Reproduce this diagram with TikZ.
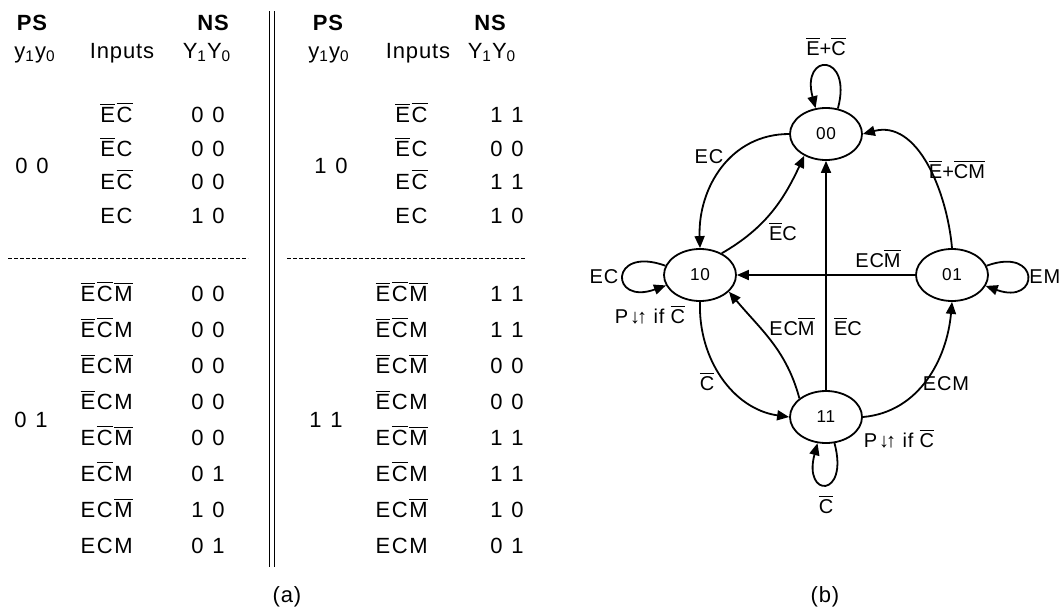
\documentclass[tikz,border=0pt]{standalone}
\usepackage{fontspec}
\setmainfont{Liberation Sans}[LetterSpace=4]
\usetikzlibrary{arrows.meta,shapes.geometric}
\newcommand{\nb}[1]{$\overline{\mbox{#1}}$}
\newcommand{\gp}{\kern0.8pt}
\newcommand{\tabsize}{\fontsize{11}{13}\selectfont}
\newcommand{\lblsize}{\fontsize{10}{12}\selectfont}
\newcommand{\stsize}{\fontsize{8.6}{10}\selectfont}

\begin{document}
\begin{tikzpicture}[x=0.5pt,y=0.5pt,
  tabtxt/.style={font=\tabsize,inner sep=0pt,anchor=base},
  hdr/.style={tabtxt,font=\tabsize\bfseries},
  inp/.style={tabtxt,anchor=base east},
  stnode/.style={ellipse,draw,line width=0.9pt,minimum width=36pt,minimum height=26pt,inner sep=0pt,font=\stsize},
  lbl/.style={font=\lblsize,inner sep=0pt,anchor=base},
  trans/.style={-{Triangle[length=6pt,width=5pt]},line width=0.9pt},
  dashsep/.style={line width=0.4pt,dash pattern=on 2pt off 1pt}]
\useasboundingbox (0,0) rectangle (1064,-611);
% left half of the table
\node[hdr] (lps) at (32,-30) {PS};
\node[hdr] (lns) at (213,-30) {NS};
\node[tabtxt] (lps2) at (35,-58) {y\textsubscript{1}y\textsubscript{0}};
\node[tabtxt] (linp) at (122,-58) {Inputs};
\node[tabtxt] (lns2) at (207,-58) {Y\textsubscript{1}Y\textsubscript{0}};
\node[inp] (li1) at (133,-122) {\nb{E}\gp\nb{C}};
\node[tabtxt] (ln1) at (208,-122) {0\kern1pt\ 0};
\node[inp] (li2) at (133,-156) {\nb{E}\gp C};
\node[tabtxt] (ln2) at (208,-156) {0\kern1pt\ 0};
\node[inp] (li3) at (133,-189) {E\gp\nb{C}};
\node[tabtxt] (ln3) at (208,-189) {0\kern1pt\ 0};
\node[inp] (li4) at (133,-223) {E\gp C};
\node[tabtxt] (ln4) at (208,-223) {1\kern1pt\ 0};
\node[tabtxt] (lpa) at (32,-173) {0\kern1pt\ 0};
\draw[dashsep] (8,-258) -- (248,-258);
\node[inp] (li5) at (133,-301) {\nb{E}\gp\nb{C}\gp\nb{M}};
\node[tabtxt] (ln5) at (208,-301) {0\kern1pt\ 0};
\node[inp] (li6) at (133,-337) {\nb{E}\gp\nb{C}\gp M};
\node[tabtxt] (ln6) at (208,-337) {0\kern1pt\ 0};
\node[inp] (li7) at (133,-373) {\nb{E}\gp C\gp\nb{M}};
\node[tabtxt] (ln7) at (208,-373) {0\kern1pt\ 0};
\node[inp] (li8) at (133,-409) {\nb{E}\gp C\gp M};
\node[tabtxt] (ln8) at (208,-409) {0\kern1pt\ 0};
\node[inp] (li9) at (133,-445) {E\gp\nb{C}\gp\nb{M}};
\node[tabtxt] (ln9) at (208,-445) {0\kern1pt\ 0};
\node[inp] (li10) at (133,-481) {E\gp\nb{C}\gp M};
\node[tabtxt] (ln10) at (208,-481) {0\kern1pt\ 1};
\node[inp] (li11) at (133,-517) {E\gp C\gp\nb{M}};
\node[tabtxt] (ln11) at (208,-517) {1\kern1pt\ 0};
\node[inp] (li12) at (133,-553) {E\gp C\gp M};
\node[tabtxt] (ln12) at (208,-553) {0\kern1pt\ 1};
\node[tabtxt] (lpb) at (31,-427) {0\kern1pt\ 1};
% divider
\draw[double,double distance=1.6pt,line width=0.5pt] (272,-11) -- (272,-567);
% right half of the table
\node[hdr] (rps) at (328,-30) {PS};
\node[hdr] (rns) at (490,-30) {NS};
\node[tabtxt] (rps2) at (329,-58) {y\textsubscript{1}y\textsubscript{0}};
\node[tabtxt] (rinp) at (418,-58) {Inputs};
\node[tabtxt] (rns2) at (492,-58) {Y\textsubscript{1}Y\textsubscript{0}};
\node[inp] (ri1) at (428,-122) {\nb{E}\gp\nb{C}};
\node[tabtxt] (rn1) at (507,-122) {1\kern1pt\ 1};
\node[inp] (ri2) at (428,-156) {\nb{E}\gp C};
\node[tabtxt] (rn2) at (507,-156) {0\kern1pt\ 0};
\node[inp] (ri3) at (428,-189) {E\gp\nb{C}};
\node[tabtxt] (rn3) at (507,-189) {1\kern1pt\ 1};
\node[inp] (ri4) at (428,-223) {E\gp C};
\node[tabtxt] (rn4) at (507,-223) {1\kern1pt\ 0};
\node[tabtxt] (rpa) at (331,-173) {1\kern1pt\ 0};
\draw[dashsep] (287,-258) -- (525,-258);
\node[inp] (ri5) at (428,-301) {\nb{E}\gp\nb{C}\gp\nb{M}};
\node[tabtxt] (rn5) at (507,-301) {1\kern1pt\ 1};
\node[inp] (ri6) at (428,-337) {\nb{E}\gp\nb{C}\gp M};
\node[tabtxt] (rn6) at (507,-337) {1\kern1pt\ 1};
\node[inp] (ri7) at (428,-373) {\nb{E}\gp C\gp\nb{M}};
\node[tabtxt] (rn7) at (507,-373) {0\kern1pt\ 0};
\node[inp] (ri8) at (428,-409) {\nb{E}\gp C\gp M};
\node[tabtxt] (rn8) at (507,-409) {0\kern1pt\ 0};
\node[inp] (ri9) at (428,-445) {E\gp\nb{C}\gp\nb{M}};
\node[tabtxt] (rn9) at (507,-445) {1\kern1pt\ 1};
\node[inp] (ri10) at (428,-481) {E\gp\nb{C}\gp M};
\node[tabtxt] (rn10) at (507,-481) {1\kern1pt\ 1};
\node[inp] (ri11) at (428,-517) {E\gp C\gp\nb{M}};
\node[tabtxt] (rn11) at (507,-517) {1\kern1pt\ 0};
\node[inp] (ri12) at (428,-553) {E\gp C\gp M};
\node[tabtxt] (rn12) at (507,-553) {0\kern1pt\ 1};
\node[tabtxt] (rpb) at (326,-427) {1\kern1pt\ 1};
\node[font=\tabsize,inner sep=0pt] (capa) at (287,-597) {(a)};
% state diagram
\node[stnode] (s00) at (826,-134) {00};
\node[stnode] (s10) at (700,-275) {10};
\node[stnode] (s01) at (952,-275) {01};
\node[stnode] (s11) at (826,-417) {11};
\draw[trans] (s00.west) to[out=180,in=92,looseness=1.05] (s10.north);
\draw[trans] (s10.45) to[out=30,in=245] (s00.225);
\draw[trans] (s01.north) to[out=95,in=15] (s00.east);
\draw[trans] (s01.west) -- (s10.east);
\draw[trans] (s11.north) -- (s00.south);
\draw[trans] (s11.145) to[out=105,in=-50] (s10.-30);
\draw[trans] (s10.south) to[out=-92,in=172] (s11.west);
\draw[trans] (s11.east) to[out=5,in=-95] (s01.south);
\draw[trans] (s00.65) .. controls +(75:58) and +(105:58) .. (s00.112);
\draw[trans] (s10.165) .. controls +(160:60) and +(200:60) .. (s10.197);
\draw[trans] (s01.15) .. controls +(20:58) and +(-20:58) .. (s01.-18);
\draw[trans] (s11.-72) .. controls +(-75:57) and +(-105:57) .. (s11.-108);
\node[lbl] (t00) at (826,-55) {\nb{E}+\nb{C}};
\node[lbl] (t0010) at (709,-163) {EC};
\node[lbl] (t1000) at (783,-240) {\nb{E}C};
\node[lbl] (t0100) at (957,-178) {\nb{E}+\nb{C}\nb{M}};
\node[lbl] (t0110) at (878,-267) {EC\nb{M}};
\node[lbl] (t1100) at (848,-335) {\nb{E}C};
\node[lbl] (t1110) at (792,-335) {EC\nb{M}};
\node[lbl] (t1011) at (707,-390) {\nb{C}};
\node[lbl] (t1101) at (946,-390) {ECM};
\node[lbl] (t10) at (604,-283) {EC};
\node[lbl] (o10) at (650,-323) {P\kern1pt↓\kern-1.5pt↑ if \nb{C}};
\node[lbl,anchor=base west] (t01) at (1029,-283) {EM};
\node[lbl] (o11) at (899,-447) {P\kern1pt↓\kern-1.5pt↑ if \nb{C}};
\node[lbl] (t11) at (826,-513) {\nb{C}};
\node[font=\tabsize,inner sep=0pt] (capb) at (825,-597) {(b)};
\end{tikzpicture}
\end{document}
